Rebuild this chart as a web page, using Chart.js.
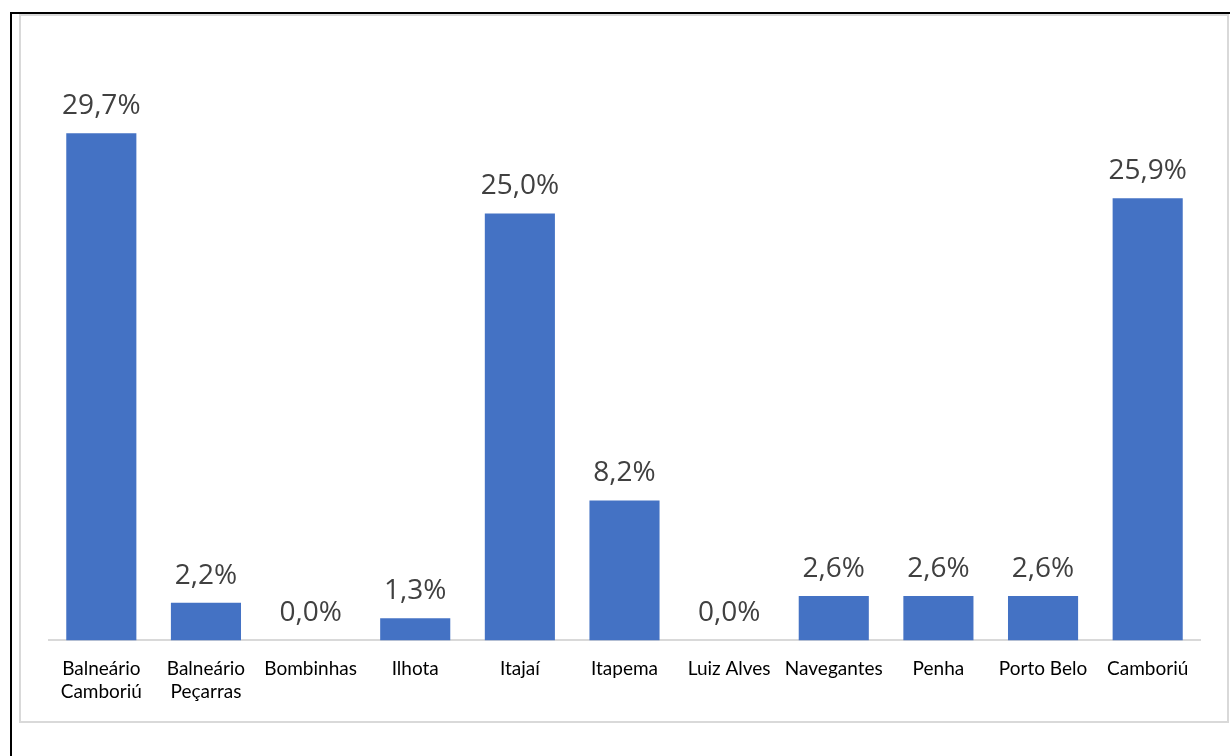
<!DOCTYPE html>
<html>
<head>
<meta charset="utf-8">
<script src="https://cdn.jsdelivr.net/npm/chart.js@4/dist/chart.umd.min.js"></script>
<style>
  html, body { margin: 0; padding: 0; background: #fff; }
  #wrap { position: relative; width: 1230px; height: 756px; }
</style>
</head>
<body>
<div id="wrap"><canvas id="myChart" width="1230" height="756"></canvas></div>
<script>
// 카테고리 (도시)
const cidades = [
  ['Balneário', 'Camboriú'], ['Balneário', 'Peçarras'], 'Bombinhas', 'Ilhota', 'Itajaí',
  'Itapema', 'Luiz Alves', 'Navegantes', 'Penha', 'Porto Belo', 'Camboriú'
];
// 비율 (%)
const valores = [29.7, 2.2, 0.0, 1.3, 25.0, 8.2, 0.0, 2.6, 2.6, 2.6, 25.9];

// 테두리 그리기
const framePlugin = {
  id: 'frame',
  beforeDraw(chart) {
    const c = chart.ctx;
    c.save();
    c.fillStyle = '#fff';
    c.fillRect(0, 0, chart.width, chart.height);
    c.strokeStyle = '#000';
    c.lineWidth = 2;
    c.beginPath();
    c.moveTo(11, 756);
    c.lineTo(11, 13);
    c.lineTo(1230, 13);
    c.stroke();
    c.strokeStyle = '#d9d9d9';
    c.lineWidth = 2;
    c.strokeRect(20, 15, 1208, 707);
    c.restore();
  }
};

// 막대 위 값 표시
const labelPlugin = {
  id: 'valueLabels',
  afterDatasetsDraw(chart) {
    const c = chart.ctx;
    const meta = chart.getDatasetMeta(0);
    c.save();
    c.font = '28px "Open Sans", sans-serif';
    c.fillStyle = '#404040';
    c.textAlign = 'center';
    c.textBaseline = 'bottom';
    meta.data.forEach((bar, i) => {
      const txt = valores[i].toFixed(1).replace('.', ',') + '%';
      c.fillText(txt, bar.x, bar.y - 13);
    });
    c.restore();
  }
};

new Chart(document.getElementById('myChart'), {
  type: 'bar',
  data: {
    labels: cidades,
    datasets: [{
      data: valores,
      backgroundColor: '#4472c4',
      categoryPercentage: 1,
      barPercentage: 0.67
    }]
  },
  options: {
    responsive: false,
    animation: false,
    layout: { padding: { left: 49, right: 30, top: 94, bottom: 36 } },
    plugins: { legend: { display: false }, tooltip: { enabled: false } },
    scales: {
      x: {
        grid: { display: false, drawTicks: false },
        border: { color: '#d9d9d9', width: 2 },
        ticks: {
          color: '#000',
          padding: 17,
          maxRotation: 0,
          autoSkip: false,
          font: { family: 'Lato, sans-serif', size: 19, lineHeight: 1.2 }
        }
      },
      y: { display: false, min: 0, max: 32 }
    }
  },
  plugins: [framePlugin, labelPlugin]
});
</script>
</body>
</html>
